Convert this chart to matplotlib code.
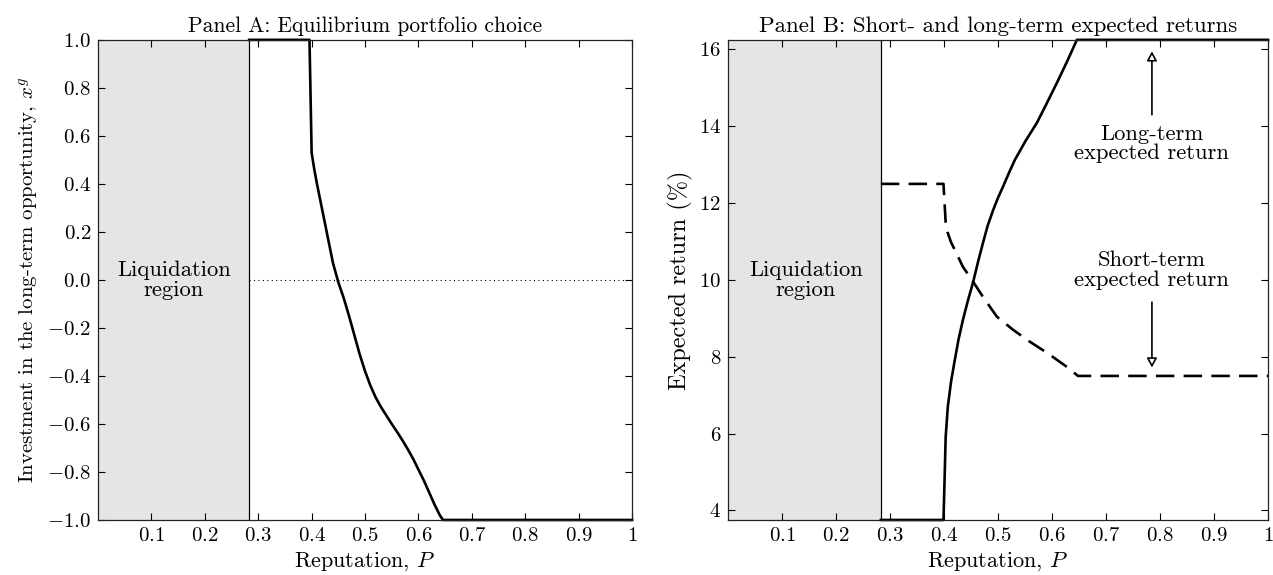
import matplotlib
matplotlib.use('Agg')
import matplotlib.pyplot as plt

plt.rcParams['font.family'] = 'serif'
plt.rcParams['font.serif'] = ['cmr10']
plt.rcParams['mathtext.fontset'] = 'cm'
plt.rcParams['axes.formatter.use_mathtext'] = True
plt.rcParams['axes.unicode_minus'] = False

# liquidation boundary
p_liq = 0.283

# Panel A: equilibrium investment x^g against reputation P
p_a = [0.283, 0.396, 0.400, 0.405, 0.410, 0.420, 0.430, 0.440, 0.450, 0.460,
       0.470, 0.480, 0.490, 0.500, 0.510, 0.520, 0.530, 0.540, 0.550, 0.560,
       0.570, 0.580, 0.590, 0.600, 0.610, 0.620, 0.630, 0.640, 0.646, 1.0]
xg = [1.0, 1.0, 0.53, 0.46, 0.40, 0.29, 0.18, 0.07, -0.01, -0.075,
      -0.15, -0.23, -0.31, -0.38, -0.44, -0.49, -0.53, -0.565, -0.60, -0.633,
      -0.668, -0.705, -0.745, -0.79, -0.835, -0.885, -0.935, -0.98, -1.0, -1.0]

# Panel B: long-term expected return (%)
p_long = [0.283, 0.399, 0.401, 0.403, 0.407, 0.413, 0.420, 0.427, 0.435, 0.444,
          0.454, 0.463, 0.472, 0.481, 0.491, 0.500, 0.509, 0.520, 0.531, 0.551,
          0.572, 0.590, 0.609, 0.628, 0.646, 1.0]
r_long = [3.75, 3.75, 4.8, 5.9, 6.7, 7.35, 7.92, 8.46, 8.96, 9.45,
          9.95, 10.47, 10.96, 11.42, 11.82, 12.14, 12.42, 12.78, 13.12, 13.62,
          14.09, 14.59, 15.13, 15.69, 16.25, 16.25]

# Panel B: short-term expected return (%)
p_short = [0.283, 0.399, 0.401, 0.403, 0.407, 0.413, 0.420, 0.435, 0.454,
           0.472, 0.498, 0.528, 0.559, 0.591, 0.630, 0.648, 1.0]
r_short = [12.5, 12.5, 12.0, 11.5, 11.22, 10.98, 10.78, 10.34, 9.95,
           9.56, 9.04, 8.70, 8.39, 8.10, 7.71, 7.5, 7.5]

xticks = [0.1, 0.2, 0.3, 0.4, 0.5, 0.6, 0.7, 0.8, 0.9, 1.0]
xticklabels = ['0.1', '0.2', '0.3', '0.4', '0.5', '0.6', '0.7', '0.8', '0.9', '1']
yticks_a = [1.0, 0.8, 0.6, 0.4, 0.2, 0.0, -0.2, -0.4, -0.6, -0.8, -1.0]
yticks_b = [4, 6, 8, 10, 12, 14, 16]

fig = plt.figure(figsize=(12.73, 5.75), dpi=100)
ax1 = fig.add_axes([0.077, 0.0957, 0.4195, 0.835])
ax2 = fig.add_axes([0.5719, 0.0957, 0.4242, 0.835])

fs_tick = 15
fs_note = 16.3

def style(ax):
    ax.set_xlim(0, 1)
    ax.set_xticks(xticks)
    ax.set_xticklabels(['$%s$' % s for s in xticklabels])
    ax.tick_params(direction='in', top=True, right=True, length=5, width=0.8,
                   labelsize=fs_tick, pad=5)
    for s in ax.spines.values():
        s.set_linewidth(0.9)
        s.set_color('#222222')
    ax.axvspan(0, p_liq, color='#e5e5e5', lw=0, zorder=0)
    ax.axvline(p_liq, color='black', lw=0.9)
    ax.set_xlabel('Reputation, $P$', fontsize=16)

# Panel A
style(ax1)
ax1.set_ylim(-1, 1)
ax1.set_yticks(yticks_a)
ax1.set_yticklabels(['$%.1f$' % v for v in yticks_a])
ax1.plot([p_liq, 1], [0, 0], color='black', lw=0.8, ls=(0, (1, 3)))
ax1.plot(p_a, xg, color='black', lw=1.9, solid_joinstyle='round', clip_on=False)
ax1.text(0.142, 0.0, 'Liquidation\nregion', ha='center', va='center',
         fontsize=fs_note, linespacing=1.05)
ax1.set_ylabel('Investment in the long-term opportunity, $x^g$', fontsize=15)
ax1.set_title('Panel A: Equilibrium portfolio choice', fontsize=15.5, pad=6)

# Panel B
style(ax2)
ax2.set_ylim(3.75, 16.25)
ax2.set_yticks(yticks_b)
ax2.set_yticklabels(['$%d$' % v for v in yticks_b])
ax2.plot(p_long, r_long, color='black', lw=1.9, solid_joinstyle='round', clip_on=False)
ax2.plot(p_short, r_short, color='black', lw=1.9, dashes=(7, 3.5))
ax2.text(0.144, 10.0, 'Liquidation\nregion', ha='center', va='center',
         fontsize=fs_note, linespacing=1.05)
ax2.text(0.785, 13.55, 'Long-term\nexpected return', ha='center', va='center',
         fontsize=fs_note, linespacing=1.0)
ax2.text(0.785, 10.25, 'Short-term\nexpected return', ha='center', va='center',
         fontsize=fs_note, linespacing=1.0)
arrow = dict(arrowstyle='-|>,head_length=0.55,head_width=0.3', fc='white',
             ec='black', lw=1.2, shrinkA=0, shrinkB=0)
ax2.annotate('', xy=(0.785, 15.95), xytext=(0.785, 14.3), arrowprops=arrow)
ax2.annotate('', xy=(0.785, 7.72), xytext=(0.785, 9.42), arrowprops=arrow)
ax2.set_ylabel('Expected return (%)', fontsize=17.5)
ax2.set_title('Panel B: Short- and long-term expected returns', fontsize=16.5, pad=6)

fig.savefig('out.png', dpi=100)
